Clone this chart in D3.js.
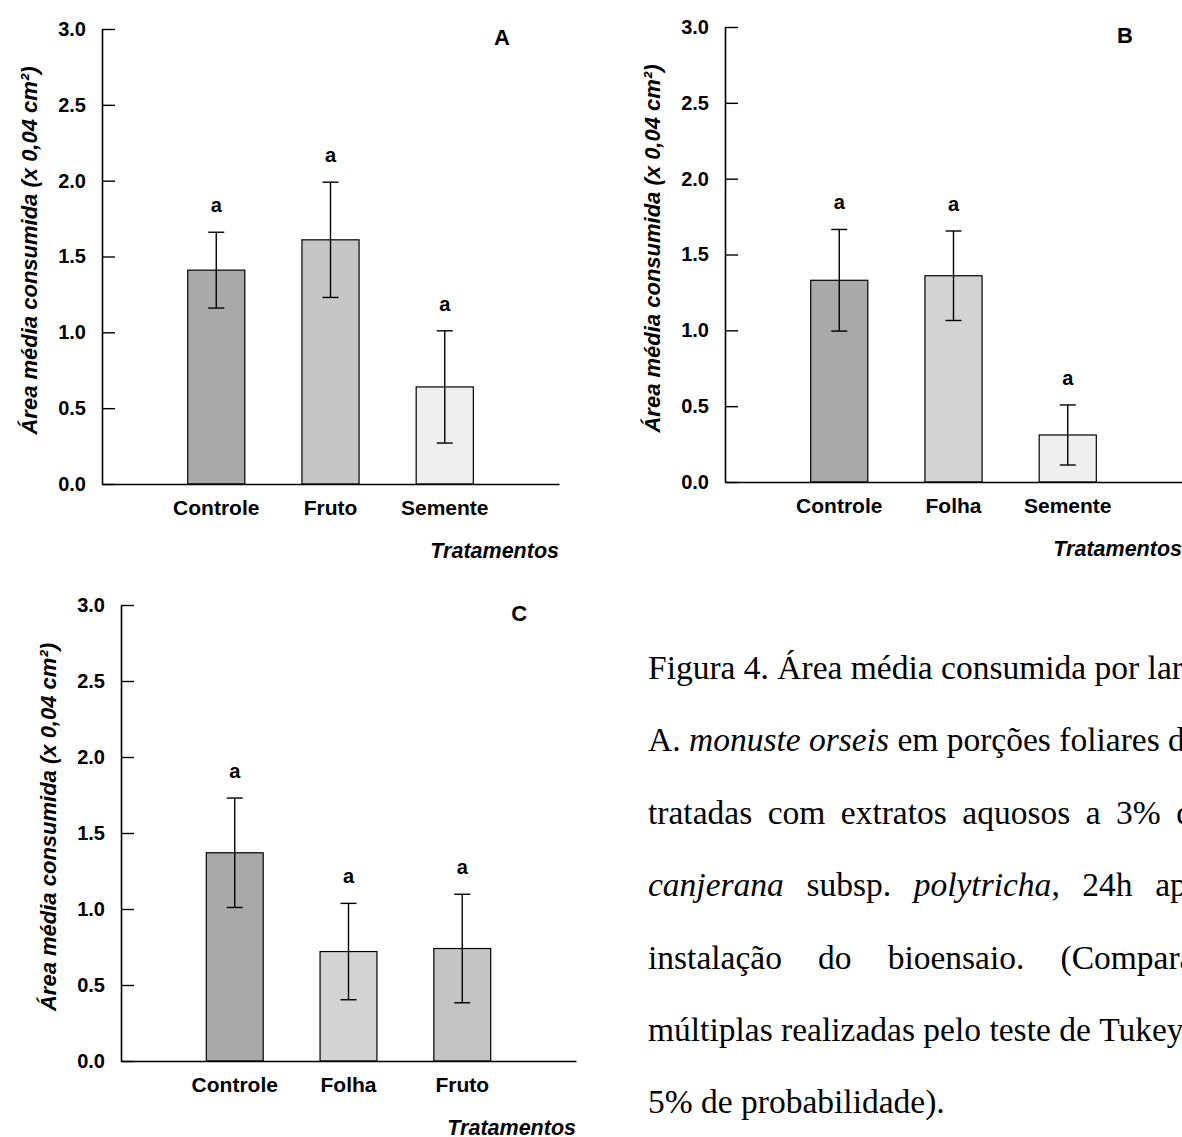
<!DOCTYPE html>
<html>
<head>
<meta charset="utf-8">
<script src="https://cdn.jsdelivr.net/npm/d3@7"></script>
<style>
  html, body { margin: 0; padding: 0; background: #fff; overflow: hidden; }
  svg { display: block; }
</style>
</head>
<body>
<script>
// ---------------- DATA ----------------
const yTicks = [0.0, 0.5, 1.0, 1.5, 2.0, 2.5, 3.0];

const catsA = ["Controle", "Fruto", "Semente"];
const meansA = [1.41, 1.61, 0.64];
const errsA = [0.25, 0.38, 0.37];
const lettersA = ["a", "a", "a"];

const catsB = ["Controle", "Folha", "Semente"];
const meansB = [1.33, 1.36, 0.31];
const errsB = [0.335, 0.295, 0.198];
const lettersB = ["a", "a", "a"];

const catsC = ["Controle", "Folha", "Fruto"];
const meansC = [1.37, 0.72, 0.74];
const errsC = [0.36, 0.317, 0.357];
const lettersC = ["a", "a", "a"];

const yLabel = "Área média consumida (x 0,04 cm²)";
const xLabel = "Tratamentos";

const captionLines = [
  "Figura 4. Área média consumida por larvas de",
  "A. *monuste orseis* em porções foliares de couve",
  "tratadas com extratos aquosos a 3% de *C.*",
  "*canjerana* subsp. *polytricha*, 24h após a",
  "instalação do bioensaio. (Comparações",
  "múltiplas realizadas pelo teste de Tukey-test a",
  "5% de probabilidade)."
];

// ---------------- STYLES ----------------
const fillsA = ["#a9a9a9", "#c6c6c6", "#efefef"];
const fillsB = ["#a9a9a9", "#d3d3d3", "#efefef"];
const fillsC = ["#a9a9a9", "#d3d3d3", "#c4c4c4"];
const SANS = "'Liberation Sans', Arial, Helvetica, sans-serif";
const SERIF = "'Liberation Serif', 'Times New Roman', serif";

const W = 1182, H = 1137;
const svg = d3.select("body").append("svg").attr("width", W).attr("height", H);
svg.append("rect").attr("width", W).attr("height", H).attr("fill", "#fff");

const panels = [
  { tag: "A", x: 102, y: 29, w: 457, h: 455, cats: catsA, means: meansA, errs: errsA, letters: lettersA, fills: fillsA },
  { tag: "B", x: 725, y: 27, w: 457, h: 455, cats: catsB, means: meansB, errs: errsB, letters: lettersB, fills: fillsB },
  { tag: "C", x: 121, y: 605, w: 455, h: 456, cats: catsC, means: meansC, errs: errsC, letters: lettersC, fills: fillsC }
];

function drawPanel(p) {
  const g = svg.append("g").attr("transform", `translate(${p.x},${p.y})`);
  const y = d3.scaleLinear().domain([0, 3]).range([p.h, 0]);
  const x = d3.scaleBand().domain(p.cats).range([0, p.w]).paddingInner(0.5).paddingOuter(0.75);
  const idx = p.cats.map((c, i) => i);

  // bars
  g.selectAll("rect.bar").data(idx).join("rect")
    .attr("class", "bar")
    .attr("x", i => x(p.cats[i]))
    .attr("y", i => y(p.means[i]))
    .attr("width", x.bandwidth())
    .attr("height", i => y(0) - y(p.means[i]))
    .attr("fill", i => p.fills[i])
    .attr("stroke", "#000")
    .attr("stroke-width", 1.2);

  // error bars
  const cx = i => x(p.cats[i]) + x.bandwidth() / 2;
  const eb = g.selectAll("g.err").data(idx).join("g").attr("class", "err")
    .attr("stroke", "#000").attr("stroke-width", 1.4);
  eb.append("line").attr("x1", cx).attr("x2", cx)
    .attr("y1", i => y(p.means[i] + p.errs[i])).attr("y2", i => y(p.means[i] - p.errs[i]));
  eb.append("line").attr("x1", i => cx(i) - 8).attr("x2", i => cx(i) + 8)
    .attr("y1", i => y(p.means[i] + p.errs[i])).attr("y2", i => y(p.means[i] + p.errs[i]));
  eb.append("line").attr("x1", i => cx(i) - 8).attr("x2", i => cx(i) + 8)
    .attr("y1", i => y(p.means[i] - p.errs[i])).attr("y2", i => y(p.means[i] - p.errs[i]));

  // significance letters
  g.selectAll("text.sig").data(idx).join("text")
    .attr("class", "sig")
    .attr("x", cx)
    .attr("y", i => y(p.means[i] + p.errs[i]) - 20)
    .attr("text-anchor", "middle")
    .style("font-family", SANS).style("font-weight", "bold").style("font-size", "20px")
    .text(i => p.letters[i]);

  // y axis
  const ya = d3.axisLeft(y).tickValues(yTicks).tickFormat(d3.format(".1f"))
    .tickSizeInner(-13).tickSizeOuter(0).tickPadding(16);
  const gy = g.append("g").call(ya);
  gy.select(".domain").attr("stroke", "#000").attr("stroke-width", 1.6);
  gy.selectAll(".tick line").attr("stroke", "#000").attr("stroke-width", 1.4);
  gy.selectAll(".tick text").attr("fill", "#000")
    .style("font-family", SANS).style("font-weight", "bold").style("font-size", "20px");

  // x axis
  const xa = d3.axisBottom(x).tickSize(0).tickPadding(16);
  const gx = g.append("g").attr("transform", `translate(0,${p.h})`).call(xa);
  gx.select(".domain").attr("stroke", "#000").attr("stroke-width", 1.6);
  gx.selectAll(".tick text").attr("fill", "#000")
    .style("font-family", SANS).style("font-weight", "bold").style("font-size", "21px");

  // axis titles
  g.append("text")
    .attr("transform", `translate(-73,${p.h / 2 - 6}) rotate(-90)`)
    .attr("dy", "0.35em")
    .attr("text-anchor", "middle")
    .style("font-family", SANS).style("font-weight", "bold").style("font-style", "italic").style("font-size", "22px")
    .text(yLabel);

  g.append("text")
    .attr("x", p.w).attr("y", p.h + 74)
    .attr("text-anchor", "end")
    .style("font-family", SANS).style("font-weight", "bold").style("font-style", "italic").style("font-size", "21.5px")
    .text(xLabel);

  // panel tag
  g.append("text")
    .attr("x", p.w * 0.875).attr("y", 16)
    .attr("text-anchor", "middle")
    .style("font-family", SANS).style("font-weight", "bold").style("font-size", "22px")
    .text(p.tag);
}

panels.forEach(drawPanel);

// ---------------- CAPTION ----------------
const capLeft = 648, capWidth = 606, capTop = 679, capStep = 72.4, capSize = 33.5;

function parseLine(line) {
  const words = [];
  let italic = false;
  line.split(" ").forEach(w => {
    const runs = [];
    let cur = "";
    for (const ch of w) {
      if (ch === "*") {
        if (cur) runs.push({ t: cur, it: italic });
        cur = "";
        italic = !italic;
      } else cur += ch;
    }
    if (cur) runs.push({ t: cur, it: italic });
    words.push(runs);
  });
  return words;
}

const capG = svg.append("g")
  .style("font-family", SERIF).style("font-size", capSize + "px").attr("fill", "#000");

captionLines.forEach((line, li) => {
  const words = parseLine(line);
  const yy = capTop + li * capStep;
  const nodes = words.map(runs => {
    const t = capG.append("text").attr("y", yy);
    runs.forEach(r => t.append("tspan").style("font-style", r.it ? "italic" : "normal").text(r.t));
    return t;
  });
  const widths = nodes.map(n => n.node().getComputedTextLength());
  const total = d3.sum(widths);
  const natural = capSize * 0.25;
  const last = li === captionLines.length - 1;
  let gap = natural;
  if (!last && words.length > 1) gap = Math.max(natural, (capWidth - total) / (words.length - 1));
  let xx = capLeft;
  nodes.forEach((n, i) => { n.attr("x", xx); xx += widths[i] + gap; });
});
</script>
</body>
</html>
